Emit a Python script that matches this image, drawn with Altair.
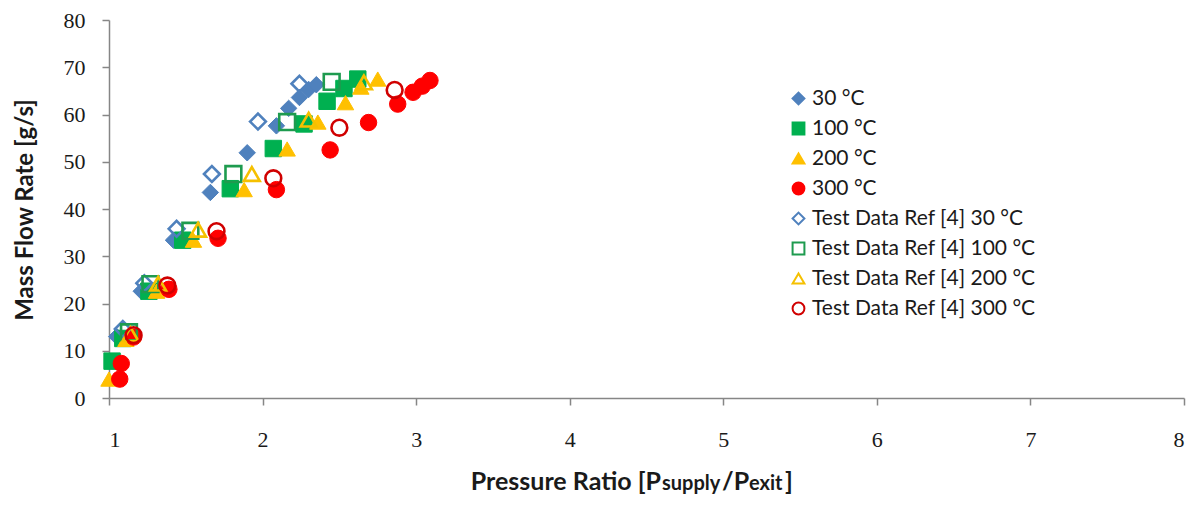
import altair as alt
import pandas as pd

series_names = ["30 °C", "100 °C", "200 °C", "300 °C",
                "Test Data Ref [4] 30 °C", "Test Data Ref [4] 100 °C",
                "Test Data Ref [4] 200 °C", "Test Data Ref [4] 300 °C"]

# Model results (filled markers)
x_30 = [1.05, 1.21, 1.42, 1.66, 1.90, 2.09, 2.17, 2.24, 2.30, 2.35]
y_30 = [13.0, 22.6, 33.4, 43.5, 51.9, 57.6, 61.3, 63.6, 65.3, 66.3]
x_100 = [1.02, 1.09, 1.26, 1.48, 1.79, 2.07, 2.27, 2.42, 2.53, 2.62]
y_100 = [7.8, 12.6, 22.6, 33.4, 44.3, 52.8, 58.0, 62.8, 65.5, 67.5]
x_200 = [1.00, 1.11, 1.31, 1.55, 1.88, 2.16, 2.36, 2.54, 2.64, 2.75]
y_200 = [4.0, 12.4, 22.6, 33.4, 44.1, 52.7, 58.4, 62.5, 65.8, 67.5]
x_300 = [1.07, 1.08, 1.16, 1.39, 1.71, 2.09, 2.44, 2.69, 2.88, 2.98, 3.04, 3.09]
y_300 = [4.0, 7.3, 12.9, 23.0, 33.8, 44.1, 52.5, 58.3, 62.2, 64.7, 66.0, 67.2]

# Test data Ref [4] (open markers)
xt_30 = [1.09, 1.23, 1.44, 1.67, 1.97, 2.24]
yt_30 = [14.6, 24.3, 35.8, 47.4, 58.5, 66.5]
xt_100 = [1.13, 1.27, 1.53, 1.81, 2.16, 2.45]
yt_100 = [13.9, 24.1, 35.4, 47.4, 58.4, 66.9]
xt_200 = [1.14, 1.32, 1.58, 1.93, 2.30, 2.66]
yt_200 = [13.5, 24.2, 35.6, 47.4, 58.9, 66.8]
xt_300 = [1.16, 1.38, 1.70, 2.07, 2.50, 2.86]
yt_300 = [13.3, 23.8, 35.3, 46.5, 57.2, 65.2]

x_ticks = [1, 2, 3, 4, 5, 6, 7, 8]
y_ticks = [0, 10, 20, 30, 40, 50, 60, 70, 80]

all_x = [x_30, x_100, x_200, x_300, xt_30, xt_100, xt_200, xt_300]
all_y = [y_30, y_100, y_200, y_300, yt_30, yt_100, yt_200, yt_300]

rows = []
for i, (name, xs, ys) in enumerate(zip(series_names, all_x, all_y)):
    for j, (xv, yv) in enumerate(zip(xs, ys)):
        rows.append({"series": name, "x": xv, "y": yv, "order": i * 100 + j,
                     "kind": "model" if i < 4 else "test"})
df = pd.DataFrame(rows)

shapes = ["diamond", "square", "triangle-up", "circle",
          "diamond", "square", "triangle-up", "circle"]
fills = ["#4F81BD", "#00B050", "#FFC000", "#FF0000",
         "transparent", "transparent", "transparent", "transparent"]
strokes = ["#4F81BD", "#00B050", "#FFC000", "#FF0000",
           "#4F81BD", "#1E9B4F", "#F5C000", "#D00000"]

legend = alt.Legend(
    title=None, orient="none", legendX=679, legendY=68,
    labelFont="Lato", labelFontSize=21, labelColor="#1a1a1a", labelLimit=400,
    symbolSize=140, symbolStrokeWidth=2, rowPadding=8, labelOffset=3,
)

enc = dict(
    x=alt.X("x:Q", scale=alt.Scale(domain=[1, 8], nice=False, zero=False),
            axis=alt.Axis(values=x_ticks, format="d", title=None,
                          labelPadding=24, tickSize=7)),
    y=alt.Y("y:Q", scale=alt.Scale(domain=[0, 80], nice=False),
            axis=alt.Axis(values=y_ticks, format="d", title=None,
                          labelPadding=17, tickSize=7)),
    shape=alt.Shape("series:N", scale=alt.Scale(domain=series_names, range=shapes), legend=legend),
    fill=alt.Fill("series:N", scale=alt.Scale(domain=series_names, range=fills), legend=legend),
    stroke=alt.Stroke("series:N", scale=alt.Scale(domain=series_names, range=strokes), legend=legend),
    order=alt.Order("order:Q"),
)

base = alt.Chart(df)
filled_pts = base.transform_filter(alt.datum.kind == "model").mark_point(
    size=270, opacity=1, strokeWidth=1).encode(**enc)
open_pts = base.transform_filter(alt.datum.kind == "test").mark_point(
    size=250, opacity=1, strokeWidth=2.6).encode(**enc)


def label(text, px, py, size, angle=0, align="left"):
    return alt.Chart(pd.DataFrame({"t": [text]})).mark_text(
        font="Lato", fontWeight="bold", fontSize=size, align=align,
        baseline="alphabetic" if angle == 0 else "middle", angle=angle, color="#1a1a1a",
    ).encode(text="t:N", x=alt.value(px), y=alt.value(py))


y_title = label("Mass Flow Rate [g/s]", -83, 190, 24, angle=270, align="center")
A = 552  # join point after "[P" (plot coordinates)
TB = 470  # title baseline (plot coordinates)
x_parts = [
    label("Pressure Ratio [P", A, TB, 25, align="right"),
    label("supply", A + 1, TB, 20),
    label("/P", A + 61, TB, 25),
    label("exit", A + 88, TB, 20),
    label("]", A + 124, TB, 25),
]

chart = alt.layer(filled_pts, open_pts, y_title, *x_parts).properties(
    width=1075, height=378,
    autosize=alt.AutoSizeParams(type="none"),
    padding={"left": 101, "top": 12, "right": 5, "bottom": 98},
).configure_view(stroke=None).configure_axis(
    grid=False, domainColor="#868686", tickColor="#868686", domainWidth=1.5,
    tickWidth=1.5, labelFont="Liberation Serif", labelFontSize=22, labelColor="#1a1a1a",
)

chart.save("out.html", embed_options={"renderer": "svg", "actions": False})
